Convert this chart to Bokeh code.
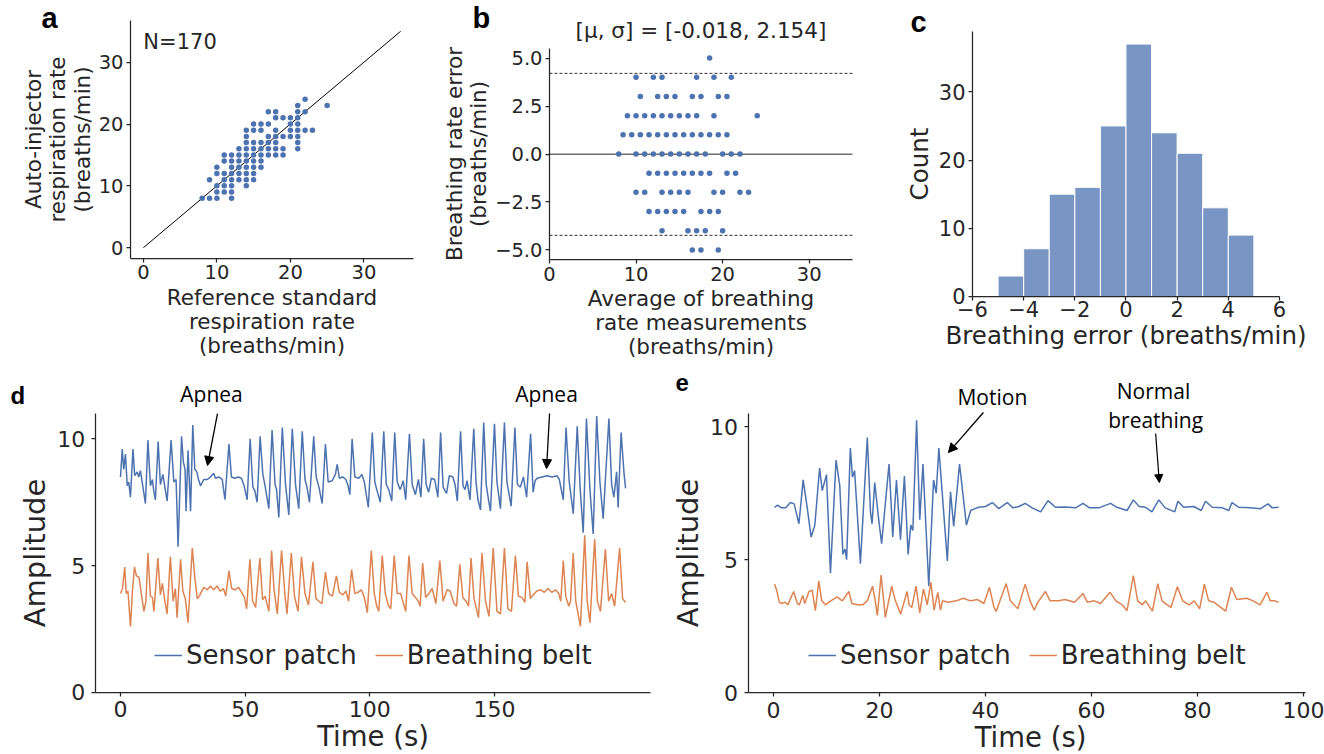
from bokeh.plotting import figure
from bokeh.layouts import column, row
from bokeh.models import (FixedTicker, Label, Arrow, NormalHead, Legend,
                          LegendItem, Range1d)
from bokeh.embed import file_html
from bokeh.resources import INLINE

TXT = "#262626"
BLUE = "#4c72b0"
ORANGE = "#dd8452"
HIST = "#7995c4"
FONT = "DejaVu Sans"
BOLD = "Liberation Sans"
ANN = "Open Sans"

# ---------------- panel a : reference vs auto-injector ----------------
a_ref = [22,
         21, 25,
         17, 18, 21, 22,
         18, 19, 20, 21,
         15, 16, 17, 20, 21,
         14, 15, 16, 18, 20, 21, 22, 23,
         14, 17, 18, 19, 20, 21,
         14, 15, 16, 17, 18, 21,
         13, 14, 15, 16, 17, 18, 19, 21,
         11, 12, 13, 14, 15, 16, 17, 18, 19,
         11, 12, 13, 14, 15, 16,
         10, 12, 13, 14, 15, 16,
         10, 11, 12, 13, 14, 15,
         9, 11, 12, 13, 14, 15,
         10, 11, 12, 14,
         10, 11, 12,
         8, 9, 10, 12]
a_auto = ([24] + [23] * 2 + [22] * 4 + [21] * 4 + [20] * 5 + [19] * 8 + [18] * 6 +
          [17] * 6 + [16] * 8 + [15] * 9 + [14] * 6 + [13] * 6 + [12] * 6 +
          [11] * 6 + [10] * 4 + [9] * 3 + [8] * 4)
a_identity = [0, 35]
a_n = 170

# ---------------- panel b : Bland-Altman ----------------
b_rows = {
    5: [18.5],
    4: [10, 12, 13, 17, 19, 21],
    3: [10.5, 12.5, 13.5, 14.5, 16.5, 17.5, 19.5, 20.5],
    2: [9, 10, 11, 12, 13, 14, 15, 16, 17, 19, 24],
    1: [8.5, 9.5, 10.5, 11.5, 12.5, 13.5, 14.5, 15.5, 16.5, 17.5, 18.5, 19.5, 20.5],
    0: [8, 10, 11, 12, 13, 14, 15, 16, 17, 18, 20, 21, 22],
    -1: [11.5, 12.5, 13.5, 14.5, 15.5, 16.5, 17.5, 18.5, 20.5, 21.5],
    -2: [10, 11, 13, 14, 15, 16, 19, 20, 22, 23],
    -3: [11.5, 12.5, 13.5, 14.5, 15.5, 17.5, 18.5, 19.5],
    -4: [13, 16, 17, 18, 20],
    -5: [16.5, 17.5, 19.5],
}
b_mean = [m for e, ms in b_rows.items() for m in ms]
b_err = [e for e, ms in b_rows.items() for m in ms]
b_mu = -0.018
b_sigma = 2.154
b_xlim = [0, 35]

# ---------------- panel c : histogram ----------------
c_left = [-5, -4, -3, -2, -1, 0, 1, 2, 3, 4]
c_right = [-4, -3, -2, -1, 0, 1, 2, 3, 4, 5]
c_count = [3, 7, 15, 16, 25, 37, 24, 21, 13, 9]

# ---------------- panel d : apnea recording ----------------
d_patch_pts = [
    (0.0, 8.5), (0.7, 9.6), (1.3, 8.8), (2.0, 9.4), (2.7, 8.15), (3.3, 8.3), (4.0, 7.7),
    (5.0, 9.6), (5.7, 8.55), (6.7, 8.7), (7.3, 8.5), (8.0, 8.75), (9.0, 8.1), (10.0, 7.45),
    (11.0, 9.95), (12.0, 8.15), (12.8, 8.4), (13.4, 7.9), (14.0, 7.6), (15.1, 9.9),
    (16.0, 8.2), (17.0, 8.6), (17.8, 8.1), (18.7, 7.55), (20.3, 9.95), (21.4, 8.3),
    (22.3, 8.4), (23.1, 5.75), (24.5, 10.1), (25.2, 9.1), (25.9, 8.8), (26.3, 7.15),
    (27.1, 9.55), (28.1, 7.15), (29.0, 10.55), (29.8, 8.8), (30.6, 8.7), (31.3, 8.4),
    (32.1, 8.15), (33.4, 8.4), (34.8, 8.4), (36.1, 8.5), (37.4, 8.65), (38.1, 8.45),
    (39.4, 8.5), (40.8, 8.4), (41.9, 7.6), (43.5, 9.8), (44.5, 8.5), (45.9, 8.45),
    (47.2, 8.5), (48.5, 8.45), (49.6, 8.15), (50.8, 7.6), (52.0, 10.0), (53.1, 8.1),
    (53.9, 7.95), (54.8, 7.5), (56.0, 10.1), (57.1, 8.6), (57.9, 8.2), (59.5, 7.25),
    (60.8, 10.35), (62.0, 8.2), (62.6, 8.0), (63.5, 6.9), (64.9, 10.45), (66.2, 8.2),
    (67.5, 7.0), (68.9, 10.4), (70.2, 8.2), (71.5, 7.25), (72.9, 10.3), (74.0, 8.4),
    (74.8, 8.1), (75.8, 7.5), (77.5, 10.1), (78.5, 8.5), (79.6, 8.1), (80.9, 7.45),
    (82.2, 9.8), (83.3, 8.3), (84.9, 8.35), (86.2, 8.6), (86.9, 9.0), (87.8, 8.45),
    (89.1, 8.5), (90.4, 8.4), (91.3, 8.15), (92.0, 7.8), (92.9, 10.0), (94.0, 8.5),
    (95.6, 8.45), (96.8, 8.6), (97.8, 8.3), (99.4, 7.3), (101.0, 10.25), (102.0, 8.3),
    (102.8, 8.0), (104.2, 7.5), (105.6, 10.3), (106.6, 8.2), (107.6, 8.0), (108.8, 7.55),
    (110.0, 10.25), (111.0, 8.3), (112.2, 8.0), (113.4, 8.35), (114.4, 7.6), (115.9, 10.2),
    (117.0, 8.2), (118.3, 7.8), (119.5, 8.4), (120.5, 7.7), (121.6, 10.0), (122.6, 8.2),
    (123.6, 7.9), (124.7, 8.45), (126.0, 8.4), (127.3, 7.7), (128.4, 10.25), (129.4, 8.1),
    (130.8, 7.85), (131.9, 8.55), (133.3, 8.5), (134.2, 8.2), (135.1, 7.55), (136.4, 10.3),
    (137.4, 8.15), (138.2, 8.0), (139.0, 8.35), (140.2, 7.6), (141.7, 10.4), (142.6, 8.3),
    (143.4, 7.6), (144.4, 7.2), (145.7, 10.65), (146.7, 8.2), (147.6, 7.6), (148.4, 7.15),
    (150.0, 10.6), (151.0, 8.3), (152.4, 7.25), (154.0, 10.65), (155.0, 8.3), (156.7, 7.35),
    (158.2, 10.45), (159.2, 8.2), (160.4, 8.1), (161.6, 8.5), (162.9, 7.7), (164.5, 10.2),
    (165.5, 7.9), (166.3, 8.35), (167.1, 8.45), (169.1, 8.5), (171.1, 8.55), (173.1, 8.5),
    (175.1, 8.55), (176.0, 8.4), (177.0, 7.9), (177.6, 7.6), (178.7, 10.45), (180.0, 8.3),
    (181.6, 7.05), (183.2, 10.5), (184.4, 8.0), (185.6, 6.3), (186.9, 10.8), (188.3, 8.0),
    (189.6, 6.25), (191.0, 10.9), (192.3, 8.3), (193.6, 6.85), (195.9, 10.8), (197.0, 8.2),
    (197.9, 7.7), (199.0, 8.7), (199.6, 7.3), (200.8, 10.25), (202.0, 8.6), (202.6, 8.05),
]
d_belt_pts = [
    (0.0, 3.9), (0.8, 4.1), (1.7, 4.95), (2.3, 3.9), (3.0, 4.0), (4.0, 2.6), (4.8, 4.0),
    (5.6, 4.95), (6.4, 4.6), (7.4, 4.55), (8.5, 3.8), (9.4, 3.2), (10.2, 3.6), (11.0, 5.5),
    (12.0, 3.8), (12.8, 3.75), (13.4, 3.2), (15.0, 5.3), (16.0, 3.85), (16.8, 4.3),
    (17.8, 3.6), (18.7, 3.1), (20.0, 5.35), (21.1, 3.6), (22.0, 4.1), (22.7, 2.95),
    (24.1, 5.25), (25.0, 4.0), (26.0, 3.7), (27.1, 2.75), (28.8, 5.7), (29.8, 4.55),
    (30.8, 3.7), (31.6, 3.8), (32.6, 4.0), (33.4, 4.15), (34.8, 4.05), (36.1, 4.2),
    (37.4, 4.05), (38.7, 4.2), (40.0, 4.0), (41.3, 4.1), (42.2, 3.8), (43.5, 4.8),
    (44.6, 4.1), (46.0, 4.05), (47.3, 4.15), (48.6, 3.95), (49.7, 3.75), (50.6, 3.3),
    (51.9, 5.25), (53.0, 3.6), (54.2, 3.35), (55.9, 5.3), (57.0, 3.65), (58.0, 3.8),
    (59.5, 3.2), (60.6, 5.6), (61.6, 4.05), (62.9, 3.1), (64.6, 5.6), (66.0, 3.8),
    (66.8, 3.1), (68.5, 5.5), (69.8, 3.8), (71.2, 3.2), (72.6, 5.35), (74.0, 3.9),
    (75.4, 3.45), (77.2, 5.15), (78.4, 3.7), (79.6, 3.6), (80.8, 3.5), (82.2, 4.75),
    (83.5, 3.9), (85.0, 3.8), (86.6, 4.6), (87.8, 3.95), (89.2, 3.85), (90.4, 4.0),
    (91.5, 3.6), (92.7, 4.85), (94.0, 3.9), (95.3, 3.95), (96.6, 4.05), (97.8, 3.75),
    (99.0, 3.15), (100.6, 5.6), (101.8, 3.9), (102.8, 3.4), (103.6, 3.2), (105.0, 5.4),
    (106.2, 3.9), (107.4, 3.45), (108.4, 3.3), (109.8, 5.4), (111.0, 3.9), (112.4, 3.9),
    (113.8, 3.4), (114.4, 3.2), (115.7, 5.4), (117.0, 3.9), (118.3, 3.75), (119.5, 3.6),
    (120.2, 3.4), (121.2, 5.1), (122.4, 3.75), (123.7, 3.9), (125.0, 4.1), (126.5, 3.5),
    (128.1, 5.2), (129.4, 3.6), (131.0, 4.05), (132.2, 4.0), (133.8, 3.5), (134.8, 3.4),
    (136.1, 5.05), (137.3, 3.75), (138.6, 3.6), (139.6, 3.4), (140.6, 5.3), (141.8, 3.7),
    (143.6, 2.95), (145.0, 5.5), (146.4, 3.6), (147.8, 3.0), (149.5, 5.7), (151.0, 3.2),
    (152.4, 3.1), (154.0, 5.7), (155.4, 3.3), (156.8, 3.2), (158.4, 5.4), (159.6, 3.8),
    (161.0, 3.75), (162.2, 3.55), (163.1, 5.15), (164.4, 3.7), (165.5, 3.85), (167.0, 4.0),
    (168.5, 4.05), (170.0, 3.95), (171.5, 4.1), (173.0, 3.95), (174.5, 4.05), (175.8, 3.9),
    (176.6, 3.6), (177.6, 5.2), (178.6, 3.8), (179.8, 3.4), (180.5, 3.6), (181.6, 5.5),
    (182.6, 3.6), (184.5, 2.6), (186.2, 6.2), (187.2, 3.6), (188.3, 2.75), (190.2, 6.05),
    (191.3, 3.6), (192.5, 3.2), (194.5, 5.65), (195.8, 3.6), (197.0, 3.9), (198.2, 3.4),
    (200.2, 5.7), (201.4, 3.7), (202.6, 3.55),
]

# ---------------- panel e : motion recording ----------------
e_patch_pts = [
    (0.2, 6.97), (0.8, 7.05), (1.5, 6.95), (2.3, 6.95), (3.2, 7.15), (3.9, 7.1), (4.8, 6.35),
    (5.6, 8.0), (6.4, 6.9), (7.1, 5.85), (7.8, 6.3), (8.7, 8.45), (9.2, 7.6), (10.0, 8.2),
    (10.75, 4.5), (11.8, 8.75), (12.5, 7.8), (13.1, 5.2), (13.5, 5.4), (13.8, 5.0),
    (14.5, 9.2), (14.9, 8.1), (15.3, 8.35), (16.4, 4.85), (17.7, 9.6), (18.3, 6.8),
    (18.6, 6.35), (19.1, 7.9), (19.8, 6.6), (20.4, 5.6), (21.8, 8.6), (22.2, 7.1),
    (22.5, 5.85), (23.2, 8.0), (23.96, 5.75), (24.7, 8.15), (25.4, 5.2), (25.9, 6.3),
    (26.3, 6.1), (27.0, 10.25), (27.6, 6.5), (28.2, 8.6), (29.3, 4.0), (30.2, 8.0),
    (30.7, 7.5), (31.2, 9.2), (32.8, 4.95), (33.4, 7.55), (34.0, 6.25), (35.1, 8.6),
    (36.4, 6.3), (37.2, 6.85), (37.8, 6.9), (38.7, 6.97), (40.0, 7.0), (41.3, 7.15),
    (42.5, 6.92), (44.1, 7.15), (45.2, 6.95), (46.3, 7.0), (47.5, 7.12), (48.8, 6.95),
    (50.4, 6.8), (51.8, 7.22), (53.2, 6.97), (55.0, 6.98), (57.0, 6.95), (58.4, 7.12),
    (59.6, 6.95), (61.4, 6.95), (63.6, 7.12), (64.8, 6.97), (66.7, 6.85), (67.9, 7.25),
    (69.0, 7.0), (70.2, 6.97), (71.4, 6.8), (72.7, 7.25), (73.9, 6.95), (75.7, 6.8),
    (76.3, 7.2), (77.4, 6.97), (79.3, 7.0), (80.7, 6.85), (81.5, 7.2), (82.8, 6.97),
    (84.7, 6.95), (85.9, 6.85), (86.5, 7.15), (87.8, 6.97), (90.0, 6.95), (91.9, 6.92),
    (93.3, 7.1), (94.1, 6.95), (95.3, 6.97),
]
e_belt_pts = [
    (0.2, 4.08), (0.6, 3.85), (1.1, 3.4), (1.6, 3.35), (2.2, 3.4), (2.7, 3.3), (3.8, 3.8),
    (4.5, 3.35), (4.9, 3.3), (5.5, 3.65), (5.9, 3.35), (6.7, 3.8), (7.3, 3.85), (7.9, 3.08),
    (8.55, 4.2), (9.1, 3.45), (9.8, 3.3), (10.8, 3.45), (12.0, 3.6), (13.0, 3.45),
    (14.2, 3.8), (14.8, 3.35), (15.8, 3.3), (16.8, 3.3), (17.7, 3.45), (18.7, 4.0),
    (19.2, 3.45), (19.6, 2.9), (20.3, 4.42), (20.8, 3.45), (21.1, 2.83), (22.3, 4.0),
    (23.0, 3.45), (24.0, 2.95), (25.2, 3.8), (25.6, 3.3), (26.1, 3.2), (26.9, 4.0),
    (27.6, 3.0), (28.3, 3.9), (29.0, 3.3), (29.7, 4.15), (30.3, 3.1), (31.0, 3.77),
    (31.5, 3.1), (31.9, 3.45), (33.0, 3.4), (34.5, 3.45), (35.8, 3.55), (37.2, 3.45),
    (38.5, 3.5), (39.7, 3.35), (40.75, 3.96), (41.6, 3.2), (42.0, 3.05), (43.9, 4.1),
    (44.7, 3.45), (46.1, 3.15), (47.5, 4.08), (48.4, 3.45), (49.2, 3.1), (49.9, 3.4),
    (51.3, 3.8), (52.2, 3.45), (53.8, 3.45), (55.0, 3.5), (56.8, 3.4), (58.4, 3.73),
    (59.2, 3.4), (60.5, 3.45), (61.7, 3.35), (63.5, 3.77), (64.6, 3.45), (65.8, 3.3),
    (66.7, 3.08), (67.9, 4.4), (68.7, 3.45), (69.6, 3.3), (70.2, 3.45), (71.5, 3.06),
    (72.5, 4.1), (73.3, 3.45), (74.3, 3.3), (75.0, 3.2), (76.2, 3.98), (77.2, 3.45),
    (78.4, 3.3), (79.4, 3.45), (80.4, 3.15), (81.3, 4.08), (82.1, 3.45), (83.1, 3.4),
    (85.3, 3.06), (86.4, 3.96), (87.4, 3.5), (89.3, 3.55), (90.5, 3.45), (91.8, 3.3),
    (93.1, 3.77), (93.7, 3.45), (94.6, 3.45), (95.3, 3.4),
]


def xs(pts):
    return [p[0] for p in pts]


def ys(pts):
    return [p[1] for p in pts]


def make(width, height, xr, yr, xspine, yspine, xbounds, ybounds, tick_size, label_size):
    p = figure(width=width, height=height, x_range=Range1d(*xr), y_range=Range1d(*yr),
               output_backend="svg", toolbar_location=None,
               min_border_left=0, min_border_right=0, min_border_top=0, min_border_bottom=0)
    p.outline_line_color = None
    p.xgrid.visible = False
    p.ygrid.visible = False
    p.background_fill_color = "white"
    p.border_fill_color = "white"
    p.xaxis.fixed_location = xspine
    p.yaxis.fixed_location = yspine
    p.xaxis.bounds = xbounds
    p.yaxis.bounds = ybounds
    for ax in (p.xaxis[0], p.yaxis[0]):
        ax.axis_line_color = TXT
        ax.axis_line_width = 1.25
        ax.major_tick_line_color = TXT
        ax.major_tick_line_width = 1.25
        ax.major_tick_out = 4
        ax.major_tick_in = 0
        ax.minor_tick_line_color = None
        ax.major_label_text_font = FONT
        ax.major_label_text_font_size = tick_size
        ax.major_label_text_color = TXT
        ax.axis_label_text_font = FONT
        ax.axis_label_text_font_style = "normal"
        ax.axis_label_text_font_size = label_size
        ax.axis_label_text_color = TXT
        ax.axis_label_text_line_height = 0.97
        ax.major_label_standoff = 3
        ax.axis_label_standoff = 2
    return p


def letter(p, x, y, t, size):
    p.add_layout(Label(x=x, y=y, text=t, text_font=BOLD, text_font_style="bold",
                       text_font_size=size, text_color="black",
                       text_baseline="middle", text_align="left"))


MINUS = "\u2212"

# ---------- a ----------
pa = make(440, 370, (-19.435, 40.42), (-19.867, 39.98), -1.75, -1.75,
          (-1.75, 36.75), (-1.75, 36.75), "19.5px", "21.5px")
pa.xaxis.ticker = FixedTicker(ticks=[0, 10, 20, 30])
pa.yaxis.ticker = FixedTicker(ticks=[0, 10, 20, 30])
pa.xaxis.axis_label = "Reference standard\nrespiration rate\n(breaths/min)"
pa.yaxis.axis_label = "Auto-injector\nrespiration rate\n(breaths/min)"
pa.yaxis.axis_label_standoff = 1
pa.line(a_identity, a_identity, line_color="black", line_width=1)
pa.scatter(a_ref, a_auto, size=5.5, fill_color=BLUE, line_color=None)
pa.add_layout(Label(x=0, y=33.19, text=f"N={a_n}", text_font=FONT, text_font_size="21px",
                    text_color=TXT, text_baseline="middle", text_align="left"))
letter(pa, -13.86, 37.07, "a", "29px")

# ---------- b ----------
pb = make(440, 370, (-12.59, 38.24), (-11.287, 8.003), -5.5, 0,
          (0, 35), (-5.5, 5.5), "19.5px", "21.5px")
pb.xaxis.ticker = FixedTicker(ticks=[0, 10, 20, 30])
pb.yaxis.ticker = FixedTicker(ticks=[-5, -2.5, 0, 2.5, 5])
pb.yaxis.major_label_overrides = {-5: MINUS + "5.0", -2.5: MINUS + "2.5", 0: "0.0",
                                  2.5: "2.5", 5: "5.0"}
pb.xaxis.axis_label = "Average of breathing\nrate measurements\n(breaths/min)"
pb.yaxis.axis_label = "Breathing rate error\n(breaths/min)"
pb.yaxis.axis_label_standoff = 1
b_hi = b_mu + 1.96 * b_sigma
b_lo = b_mu - 1.96 * b_sigma
pb.line(b_xlim, [b_mu, b_mu], line_color="#6e6e6e", line_width=1.5)
pb.line(b_xlim, [b_hi, b_hi], line_color="#333333", line_width=1, line_dash="3 2")
pb.line(b_xlim, [b_lo, b_lo], line_color="#333333", line_width=1, line_dash="3 2")
pb.scatter(b_mean, b_err, size=5.5, fill_color=BLUE, line_color=None)
pb.add_layout(Label(x=17.5, y=6.44, text=f"[\u03bc, \u03c3] = [{b_mu}, {b_sigma}]",
                    text_font=FONT, text_font_size="21.5px", text_color=TXT,
                    text_align="center", text_baseline="middle"))
letter(pb, -8.89, 7.065, "b", "29px")

# ---------- c ----------
pc = make(444, 370, (-9.597, 7.761), (-10.849, 43.39), 0, -6,
          (-6, 6), (0, 38.85), "21px", "24.5px")
pc.xaxis.ticker = FixedTicker(ticks=[-6, -4, -2, 0, 2, 4, 6])
pc.xaxis.major_label_overrides = {-6: MINUS + "6", -4: MINUS + "4", -2: MINUS + "2"}
pc.yaxis.ticker = FixedTicker(ticks=[0, 10, 20, 30])
pc.xaxis.axis_label = "Breathing error (breaths/min)"
pc.yaxis.axis_label = "Count"
pc.xaxis.axis_label_standoff = 0
pc.xaxis.major_label_standoff = 1
pc.quad(left=c_left, right=c_right, top=c_count, bottom=0, fill_color=HIST,
        line_color="white", line_width=1)
letter(pc, -8.424, 40.31, "c", "29px")

# ---------- d ----------
pd = make(662, 384, (-48.13, 217.4), (-2.445, 12.697), 0, -10.1,
          (-10.1, 212.7), (0, 11.0), "22px", "29px")
pd.xaxis.ticker = FixedTicker(ticks=[0, 50, 100, 150])
pd.yaxis.ticker = FixedTicker(ticks=[0, 5, 10])
pd.yaxis.axis_label = "Amplitude"
pd.yaxis.axis_label_standoff = 3
pd.xaxis.major_label_standoff = 5
pd.yaxis.major_label_standoff = 6
r1 = pd.line(xs(d_patch_pts), ys(d_patch_pts), line_color=BLUE, line_width=1.5)
r2 = pd.line(xs(d_belt_pts), ys(d_belt_pts), line_color=ORANGE, line_width=1.5)
pd.add_layout(Legend(items=[LegendItem(label="Sensor patch", renderers=[r1]),
                            LegendItem(label="Breathing belt", renderers=[r2])],
                     orientation="horizontal", location=(154, 84),
                     label_text_font=FONT, label_text_font_size="26px", label_text_color=TXT,
                     glyph_width=28, glyph_height=20, label_standoff=4, spacing=18,
                     border_line_color=None, background_fill_alpha=0, margin=0, padding=0))
pd.add_layout(Label(x=101.3, y=-1.735, text="Time (s)", text_font=FONT, text_font_size="27.5px",
                    text_color=TXT, text_align="center", text_baseline="middle"))
for tx, ty, x0, y0, x1, y1 in [(36.5, 11.79, 38.9, 11.0, 34.9, 8.95),
                               (170.9, 11.79, 172.1, 11.0, 170.9, 8.83)]:
    pd.add_layout(Label(x=tx, y=ty, text="Apnea", text_font=ANN, text_font_size="21px",
                        text_color="black", text_align="center", text_baseline="middle"))
    pd.add_layout(Arrow(end=NormalHead(size=9, fill_color="black", line_color="black"),
                        x_start=x0, y_start=y0, x_end=x1, y_end=y1,
                        line_color="black", line_width=1.3))
letter(pd, -44.1, 11.71, "d", "24px")

# ---------- e ----------
pe = make(662, 384, (-20.94, 103.96), (-2.333, 12.119), 0, -4.8,
          (-4.8, 100.3), (0, 10.5), "22px", "29px")
pe.xaxis.ticker = FixedTicker(ticks=[0, 20, 40, 60, 80, 100])
pe.yaxis.ticker = FixedTicker(ticks=[0, 5, 10])
pe.yaxis.axis_label = "Amplitude"
pe.yaxis.axis_label_standoff = 3
pe.xaxis.major_label_standoff = 5
pe.yaxis.major_label_standoff = 6
s1 = pe.line(xs(e_patch_pts), ys(e_patch_pts), line_color=BLUE, line_width=1.5)
s2 = pe.line(xs(e_belt_pts), ys(e_belt_pts), line_color=ORANGE, line_width=1.5)
pe.add_layout(Legend(items=[LegendItem(label="Sensor patch", renderers=[s1]),
                            LegendItem(label="Breathing belt", renderers=[s2])],
                     orientation="horizontal", location=(146, 84),
                     label_text_font=FONT, label_text_font_size="26px", label_text_color=TXT,
                     glyph_width=28, glyph_height=20, label_standoff=4, spacing=18,
                     border_line_color=None, background_fill_alpha=0, margin=0, padding=0))
pe.add_layout(Label(x=48.5, y=-1.656, text="Time (s)", text_font=FONT, text_font_size="27.5px",
                    text_color=TXT, text_align="center", text_baseline="middle"))
pe.add_layout(Label(x=41.3, y=11.14, text="Motion", text_font=ANN, text_font_size="21px",
                    text_color="black", text_align="center", text_baseline="middle"))
pe.add_layout(Arrow(end=NormalHead(size=9, fill_color="black", line_color="black"),
                    x_start=39.6, y_start=10.54, x_end=33.0, y_end=9.03,
                    line_color="black", line_width=1.3))
pe.add_layout(Label(x=71.7, y=11.33, text="Normal", text_font=ANN,
                    text_font_size="21px", text_color="black", text_align="center",
                    text_baseline="middle"))
pe.add_layout(Label(x=72.1, y=10.27, text="breathing", text_font=ANN,
                    text_font_size="21px", text_color="black", text_align="center",
                    text_baseline="middle"))
pe.add_layout(Arrow(end=NormalHead(size=8, fill_color="black", line_color="black"),
                    x_start=72.1, y_start=9.75, x_end=72.8, y_end=7.9,
                    line_color="black", line_width=1.2))
letter(pe, -18.5, 11.67, "e", "24px")

layout = column(row(pa, pb, pc), row(pd, pe))
open("out.html", "w").write(file_html(layout, INLINE))
